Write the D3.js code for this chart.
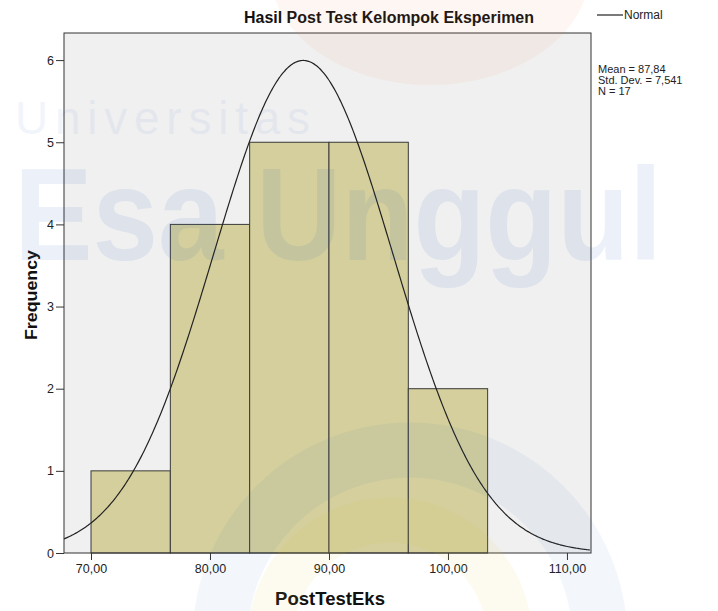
<!DOCTYPE html>
<html>
<head>
<meta charset="utf-8">
<script src="https://cdn.jsdelivr.net/npm/d3@7"></script>
<style>
  body { margin: 0; background: #fff; }
  svg { display: block; font-family: "Liberation Sans", Arial, sans-serif; }
</style>
</head>
<body>
<div id="chart"></div>
<script>
// histogram data
const binEdges = [70, 76.667, 83.333, 90, 96.667, 103.333];
const counts = [1, 4, 5, 5, 2];
const xTicks = [70, 80, 90, 100, 110];
const yTicks = [0, 1, 2, 3, 4, 5, 6];
const stats = { mean: 87.84, sd: 7.541, n: 17 };
const statLines = ["Mean = 87,84", "Std. Dev. = 7,541", "N = 17"];

const width = 718, height = 611;
const plot = { left: 64, right: 591, top: 33, bottom: 553 };

const svg = d3.select('#chart')
  .append('svg')
  .attr('width', width)
  .attr('height', height);

const x = d3.scaleLinear().domain([67.73, 112.02]).range([plot.left, plot.right]);
const y = d3.scaleLinear().domain([0, 6.33]).range([plot.bottom, plot.top]);

// plot background
svg.append('rect')
  .attr('x', plot.left).attr('y', plot.top)
  .attr('width', plot.right - plot.left).attr('height', plot.bottom - plot.top)
  .attr('fill', '#f0f0f0');

// bars
const bins = counts.map((c, i) => ({ x0: binEdges[i], x1: binEdges[i + 1], count: c }));
svg.append('g')
  .selectAll('rect')
  .data(bins)
  .join('rect')
  .attr('x', d => x(d.x0))
  .attr('y', d => y(d.count))
  .attr('width', d => x(d.x1) - x(d.x0))
  .attr('height', d => y(0) - y(d.count))
  .attr('fill', '#d4cf9c')
  .attr('stroke', '#3a3a3a')
  .attr('stroke-width', 1);

// normal curve scaled to counts
const binW = binEdges[1] - binEdges[0];
const pdf = v => Math.exp(-0.5 * ((v - stats.mean) / stats.sd) ** 2) / (stats.sd * Math.sqrt(2 * Math.PI));
const curvePts = d3.range(x.domain()[0], x.domain()[1] + 0.01, 0.1).map(v => [v, stats.n * binW * pdf(v)]);
svg.append('path')
  .datum(curvePts)
  .attr('fill', 'none')
  .attr('stroke', '#222')
  .attr('stroke-width', 1.2)
  .attr('d', d3.line().x(d => x(d[0])).y(d => y(d[1])).curve(d3.curveBasis));

// plot frame
svg.append('rect')
  .attr('x', plot.left).attr('y', plot.top)
  .attr('width', plot.right - plot.left).attr('height', plot.bottom - plot.top)
  .attr('fill', 'none')
  .attr('stroke', '#333')
  .attr('stroke-width', 1);

// axes
const fmt = v => d3.format('.2f')(v).replace('.', ',');
const xAxis = svg.append('g')
  .attr('transform', `translate(0,${plot.bottom})`)
  .call(d3.axisBottom(x).tickValues(xTicks).tickFormat(fmt).tickSize(7).tickSizeOuter(0).tickPadding(4));
const yAxis = svg.append('g')
  .attr('transform', `translate(${plot.left},0)`)
  .call(d3.axisLeft(y).tickValues(yTicks).tickFormat(d3.format('d')).tickSize(8).tickSizeOuter(0).tickPadding(2));
[xAxis, yAxis].forEach(g => {
  g.select('.domain').remove();
  g.selectAll('line').attr('stroke', '#333');
  g.selectAll('text').attr('fill', '#222').style('font-size', '12.5px');
});

// titles
svg.append('text')
  .attr('x', 389).attr('y', 23)
  .attr('text-anchor', 'middle')
  .attr('textLength', 290).attr('lengthAdjust', 'spacingAndGlyphs')
  .style('font-size', '16px').style('font-weight', 'bold')
  .attr('fill', '#111')
  .text('Hasil Post Test Kelompok Eksperimen');

svg.append('text')
  .attr('x', 330).attr('y', 605)
  .attr('text-anchor', 'middle')
  .attr('textLength', 110).attr('lengthAdjust', 'spacingAndGlyphs')
  .style('font-size', '18px').style('font-weight', 'bold')
  .attr('fill', '#111')
  .text('PostTestEks');

svg.append('text')
  .attr('transform', `translate(37,${(plot.top + plot.bottom) / 2 + 2}) rotate(-90)`)
  .attr('text-anchor', 'middle')
  .attr('textLength', 90).attr('lengthAdjust', 'spacingAndGlyphs')
  .style('font-size', '17px').style('font-weight', 'bold')
  .attr('fill', '#111')
  .text('Frequency');

// legend
svg.append('line')
  .attr('x1', 597).attr('x2', 623).attr('y1', 15).attr('y2', 15)
  .attr('stroke', '#222').attr('stroke-width', 1.2);
svg.append('text')
  .attr('x', 624).attr('y', 19)
  .style('font-size', '12px').attr('fill', '#222')
  .text('Normal');

svg.append('g')
  .selectAll('text')
  .data(statLines)
  .join('text')
  .attr('x', 598)
  .attr('y', (d, i) => 73 + i * 11)
  .style('font-size', '11px').attr('fill', '#222')
  .text(d => d);

// faint watermark over everything
const wm = svg.append('g').style('pointer-events', 'none');
wm.append('ellipse')
  .attr('cx', 430).attr('cy', -30).attr('rx', 160).attr('ry', 115)
  .attr('fill', '#f08040').attr('opacity', 0.07);
wm.append('circle')
  .attr('cx', 410).attr('cy', 640).attr('r', 190)
  .attr('fill', 'none').attr('stroke', '#3a70c8').attr('stroke-width', 55).attr('opacity', 0.06);
wm.append('circle')
  .attr('cx', 390).attr('cy', 640).attr('r', 120)
  .attr('fill', 'none').attr('stroke', '#e8d040').attr('stroke-width', 45).attr('opacity', 0.08);
wm.append('text')
  .attr('x', 15).attr('y', 134)
  .attr('textLength', 295).attr('lengthAdjust', 'spacing')
  .style('font-size', '46px').style('font-weight', 'normal')
  .attr('fill', '#2a64c0').attr('opacity', 0.06)
  .text('Universitas');
wm.append('text')
  .attr('x', 14).attr('y', 260)
  .attr('textLength', 648).attr('lengthAdjust', 'spacingAndGlyphs')
  .style('font-size', '132px').style('font-weight', 'bold')
  .attr('fill', '#2a64c0').attr('opacity', 0.09)
  .text('Esa Unggul');
</script>
</body>
</html>
